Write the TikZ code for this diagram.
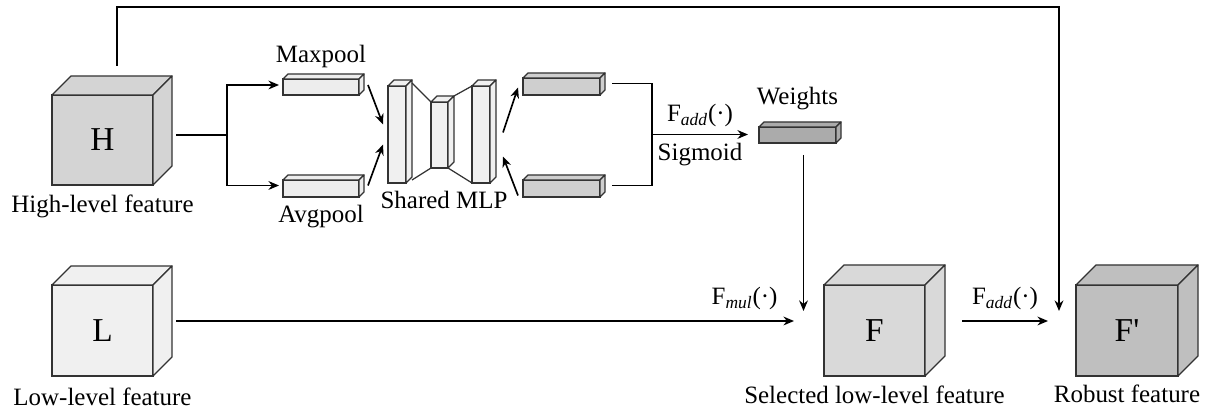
\documentclass[tikz,border=0pt]{standalone}
\usepackage{fontspec}
\setmainfont{Liberation Serif}
\usetikzlibrary{arrows.meta,calc,positioning}

\definecolor{highfill}{gray}{0.83}
\definecolor{lowfill}{gray}{0.94}
\definecolor{selfill}{gray}{0.85}
\definecolor{robfill}{gray}{0.75}
\definecolor{poolfill}{gray}{0.93}
\definecolor{mlpfill}{gray}{0.94}
\definecolor{attfill}{gray}{0.81}
\definecolor{wfill}{gray}{0.67}

\tikzset{
  face/.style={draw=black!80, line width=0.7pt, inner sep=0pt, outer sep=0pt},
  edge/.style={draw=black!80, line width=0.7pt, line join=round},
  lbl/.style={font=\fontsize{14.2}{17}\selectfont, inner sep=0pt},
  cubetext/.style={font=\fontsize{19}{22}\selectfont},
  link/.style={line width=0.95pt},
  arr/.style={line width=0.95pt, -{Stealth[length=6pt,width=5pt]}},
}

% name, front centre, width, height, depth, fill, text
\newcommand{\cuboid}[7]{%
  \node[face, cubetext, fill=#6, minimum width=#3*0.02cm, minimum height=#4*0.02cm] (#1) at #2 {#7};
  \draw[edge, fill=#6] (#1.north west) -- ++(#5,-#5) -- ++(#3,0) -- (#1.north east) -- cycle;
  \draw[edge, fill=#6] (#1.north east) -- ++(#5,-#5) -- ++(0,#4) -- (#1.south east) -- cycle;
}

\begin{document}
\begin{tikzpicture}[x=0.02cm, y=-0.02cm]

  \useasboundingbox (0,0) rectangle (1210,411);

  \cuboid{H}{(102.5,140)}{101}{90}{19}{highfill}{H}
  \cuboid{L}{(102.5,330.5)}{101}{91}{19}{lowfill}{L}
  \cuboid{F}{(874.5,330.5)}{101}{91}{20}{selfill}{F}
  \cuboid{Fp}{(1127,330.5)}{102}{91}{20}{robfill}{F\textquotesingle}

  \node[lbl, below=0.2cm of H] (Hname) {High-level feature};
  \node[lbl, below=0.24cm of L] (Lname) {Low-level feature};
  \node[lbl, below=0.2cm of F] (Fname) {Selected low-level feature};
  \node[lbl, below=0.18cm of Fp] (Fpname) {Robust feature};

  \cuboid{maxp}{(321,87)}{76}{16}{5}{poolfill}{}
  \cuboid{avgp}{(321,188.5)}{76}{17}{5}{poolfill}{}

  \node[lbl, above=0.22cm of maxp] (maxpname) {Maxpool};
  \node[lbl, below=0.16cm of avgp] (avgpname) {Avgpool};

  \cuboid{mlpa}{(397,134.5)}{18}{97}{6}{mlpfill}{}
  \cuboid{mlpb}{(439.5,135)}{17}{66}{6}{mlpfill}{}
  \cuboid{mlpc}{(481,134.5)}{18}{97}{6}{mlpfill}{}

  \draw[edge] ($(mlpa.north east)+(6,-3)$) -- (mlpb.north west);
  \draw[edge] ($(mlpa.south east)+(6,-3)$) -- (mlpb.south west);
  \draw[edge] ($(mlpb.north east)+(6,-6)$) -- (mlpc.north west);
  \draw[edge] (mlpb.south east) -- (mlpc.south west);

  \node[lbl] (mlpname) at (444,200) {Shared MLP};

  \cuboid{maxo}{(561.5,86.5)}{77}{17}{5}{attfill}{}
  \cuboid{avgo}{(561.5,188.5)}{77}{17}{5}{attfill}{}

  \cuboid{wgt}{(797.5,135)}{77}{16}{5}{wfill}{}
  \node[lbl, above=0.34cm of wgt] (wgtname) {Weights};

  % pooling branch
  \draw[link] ($(H.east)+(23,-5)$) -- ++(51,0) coordinate (split);
  \draw[arr] (split) |- ($(maxp.west)+(-4,-2)$);
  \draw[arr] (split) |- ($(avgp.west)+(-4,-3)$);

  \draw[arr] ($(maxp.east)+(9,-2)$) -- ($(mlpa.west)+(-5,-10)$);
  \draw[arr] ($(avgp.east)+(9,-3)$) -- ($(mlpa.west)+(-5,10)$);

  \draw[arr] ($(mlpc.east)+(13,-2)$) -- ($(maxo.west)+(-5,1)$);
  \draw[arr] ($(avgo.west)+(-5,7)$) -- ($(mlpc.east)+(13,22)$);

  \draw[link] ($(maxo.east)+(12,-3)$) -| ($(avgo.east)+(52,-3)$) -- ($(avgo.east)+(12,-3)$);
  \coordinate (merge) at ($(maxo.east)!0.5!(avgo.east)+(52,-3)$);
  \draw[arr] (merge) -- ($(merge -| wgt.west)+(-11,0)$)
    node[lbl, midway, above=0.13cm] {F\textsubscript{\itshape add}(·)}
    node[lbl, midway, below=0.15cm] {Sigmoid};

  % weighting and fusion
  \coordinate (wd) at ($(wgt.south)+(6,12)$);
  \coordinate (fin) at ($(F.north west)+(-20,26)$);
  \draw[arr] (wd) -- (wd |- fin);

  \draw[arr] ($(L.east)+(23,-9.5)$) -- ($(F.west)+(-30,-9.5)$)
    node[lbl, pos=0.92, above=0.2cm] {F\textsubscript{\itshape mul}(·)};

  \draw[arr] ($(F.east)+(37,-9.5)$) -- ($(Fp.west)+(-28,-9.5)$)
    node[lbl, midway, above=0.2cm] {F\textsubscript{\itshape add}(·)};

  \coordinate (fpin) at ($(Fp.north west)+(-17,26)$);
  \draw[arr] ($(H.north)+(14.5,-29)$) -- ++(0,-59) -| (fpin);

\end{tikzpicture}
\end{document}
